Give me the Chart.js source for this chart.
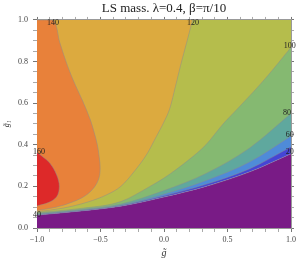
<!DOCTYPE html>
<html>
<head>
<meta charset="utf-8">
<script src="https://cdn.jsdelivr.net/npm/chart.js@4.4.1/dist/chart.umd.min.js"></script>
<style>
  html, body { margin: 0; padding: 0; background: #fff; }
  #wrap { width: 300px; height: 260px; }
</style>
</head>
<body>
<div id="wrap"><canvas id="plot" width="300" height="260"></canvas></div>
<script>
// Contour boundaries, as [g~, g1] pairs
const level20 = [[-1, 0.062], [-0.67, 0.081], [-0.34, 0.105], [0, 0.149], [0.33, 0.2], [0.675, 0.27], [1, 0.357]];
const level40 = [[-1, 0.064], [-0.67, 0.083], [-0.34, 0.108], [0, 0.155], [0.33, 0.21], [0.675, 0.285], [1, 0.39]];
const level60 = [[-1, 0.066], [-0.67, 0.085], [-0.34, 0.11], [0, 0.163], [0.33, 0.228], [0.675, 0.318], [1, 0.442]];
const level80 = [[-1, 0.07], [-0.67, 0.088], [-0.34, 0.115], [0, 0.18], [0.33, 0.262], [0.675, 0.385], [1, 0.55]];
const level100 = [[-1, 0.074], [-0.67, 0.093], [-0.34, 0.127], [-0.11, 0.2], [0, 0.24], [0.2, 0.33], [0.33, 0.4], [0.465, 0.5], [0.585, 0.577], [0.8, 0.72], [1, 0.868]];
const level120 = [[-1, 0.078], [-0.8, 0.095], [-0.6, 0.125], [-0.45, 0.16], [-0.34, 0.2], [-0.23, 0.275], [-0.13, 0.36], [-0.06, 0.44], [0, 0.51], [0.047, 0.577], [0.09, 0.68], [0.13, 0.78], [0.18, 0.895], [0.225, 1]];
// these two bend back on themselves, so they are closed shapes against the left edge
const level140 = [[-1, 0.084], [-0.85, 0.1], [-0.72, 0.125], [-0.62, 0.155], [-0.55, 0.195], [-0.512, 0.24], [-0.503, 0.29], [-0.51, 0.34], [-0.525, 0.4], [-0.55, 0.46], [-0.58, 0.52], [-0.64, 0.61], [-0.7, 0.69], [-0.76, 0.78], [-0.82, 0.89], [-0.874, 1], [-1, 1]];
const level160 = [[-1, 0.106], [-0.911, 0.122], [-0.845, 0.15], [-0.824, 0.2], [-0.845, 0.255], [-0.898, 0.311], [-0.96, 0.345], [-1, 0.364]];

const bandColours = ['#791b86', '#4545d5', '#4f8bd8', '#5fa89e', '#85b971', '#b5bd4c', '#dcaa3f', '#e8813a', '#dd2929'];

const contourLabels = ['140', '120', '100', '80', '60', '20', '160', '40'];
const contourLabelX = [-0.874, 0.228, 0.99, 0.968, 0.99, 0.99, -0.984, -1.0];
const contourLabelY = [0.988, 0.988, 0.875, 0.553, 0.447, 0.365, 0.365, 0.0625];

const chartTitle = 'LS mass. \u03bb=0.4, \u03b2=\u03c0/10';
const xTitle = 'g\u0303';
const yTitle = 'g\u0303\u2081';

const serif = '"Liberation Serif", "DejaVu Serif", serif';
const lineColour = 'rgba(140,140,140,0.7)';

function toPoints(arr) {
  return arr.map(p => ({ x: p[0], y: p[1] }));
}

// label only every 0.5 on x and every 0.2 on y, the rest are minor ticks
function tickText(value, every) {
  const k = value / every;
  if (Math.abs(k - Math.round(k)) > 1e-6) return '';
  const v = Math.round(k) * every;
  if (Math.abs(v) < 1e-9) return '0.0';
  return (v < 0 ? '\u2212' : '') + Math.abs(v).toFixed(1);
}

function tickShade(ctx, every) {
  const v = ctx.tick ? ctx.tick.value : 0;
  const k = v / every;
  return Math.abs(k - Math.round(k)) < 1e-6 ? '#777' : '#aaa';
}

const contourText = {
  id: 'contourText',
  afterDatasetsDraw(chart) {
    const c = chart.ctx;
    const xs = chart.scales.x, ys = chart.scales.y;
    c.save();
    c.font = '8px ' + serif;
    c.fillStyle = '#222';
    c.textAlign = 'center';
    c.textBaseline = 'middle';
    contourLabels.forEach((t, i) => {
      c.fillText(t, xs.getPixelForValue(contourLabelX[i]), ys.getPixelForValue(contourLabelY[i]));
    });
    c.restore();
  }
};

function band(data, fill, colour, order, tension) {
  return {
    data: toPoints(data),
    showLine: true,
    fill: fill,
    backgroundColor: colour,
    borderColor: lineColour,
    borderWidth: 0.7,
    pointRadius: 0,
    tension: tension || 0,
    cubicInterpolationMode: tension ? 'default' : 'monotone',
    order: order
  };
}

const purple = band(level20, 'start', bandColours[0], 10);
purple.borderWidth = 0;

new Chart(document.getElementById('plot'), {
  type: 'scatter',
  data: {
    datasets: [
      purple,
      band(level20, 'end', bandColours[1], 9),
      band(level40, 'end', bandColours[2], 8),
      band(level60, 'end', bandColours[3], 7),
      band(level80, 'end', bandColours[4], 6),
      band(level100, 'end', bandColours[5], 5),
      band(level120, 'end', bandColours[6], 4),
      band(level140, 'shape', bandColours[7], 3, 0.35),
      band(level160, 'shape', bandColours[8], 2, 0.35)
    ]
  },
  options: {
    responsive: false,
    animation: false,
    devicePixelRatio: 1,
    layout: { padding: 0 },
    plugins: {
      legend: { display: false },
      tooltip: { enabled: false },
      title: {
        display: true,
        text: chartTitle,
        fullSize: false,
        color: '#222',
        font: { family: serif, size: 13, weight: 'normal', lineHeight: 1.15 },
        padding: { top: 1, bottom: 0 }
      }
    },
    scales: {
      x: {
        type: 'linear', position: 'bottom', min: -1, max: 1,
        ticks: {
          stepSize: 0.1, autoSkip: false, maxRotation: 0, padding: 3,
          color: '#444', font: { family: serif, size: 8 },
          callback: v => tickText(v, 0.5)
        },
        grid: { drawOnChartArea: false, tickLength: 4, tickColor: ctx => tickShade(ctx, 0.5) },
        border: { display: true, color: '#999' },
        title: { display: true, text: xTitle, color: '#333', font: { family: serif, size: 10, style: 'italic' }, padding: { top: 0, bottom: 1 } },
        afterFit: s => { s.height = 32; }
      },
      x2: {
        type: 'linear', position: 'top', min: -1, max: 1,
        ticks: { display: false, stepSize: 0.1, autoSkip: false },
        grid: { drawOnChartArea: false, tickLength: 3, tickColor: ctx => tickShade(ctx, 0.5) },
        border: { display: true, color: '#999' },
        afterFit: s => { s.height = 4; }
      },
      y: {
        type: 'linear', position: 'left', min: 0, max: 1,
        ticks: {
          stepSize: 0.05, autoSkip: false, padding: 5,
          color: '#444', font: { family: serif, size: 8 },
          callback: v => tickText(v, 0.2)
        },
        grid: { drawOnChartArea: false, tickLength: 4, tickColor: ctx => tickShade(ctx, 0.2) },
        border: { display: true, color: '#999' },
        title: { display: true, text: yTitle, color: '#333', font: { family: serif, size: 8, style: 'italic' }, padding: { top: 2, bottom: 0 } },
        afterFit: s => { s.width = 37; }
      },
      y2: {
        type: 'linear', position: 'right', min: 0, max: 1,
        ticks: { display: false, stepSize: 0.05, autoSkip: false },
        grid: { drawOnChartArea: false, tickLength: 3, tickColor: ctx => tickShade(ctx, 0.2) },
        border: { display: true, color: '#999' },
        afterFit: s => { s.width = 9; }
      }
    }
  },
  plugins: [contourText]
});
</script>
</body>
</html>
